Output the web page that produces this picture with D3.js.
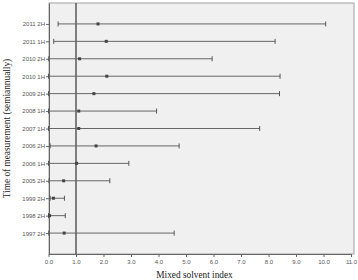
<!DOCTYPE html>
<html>
<head>
<meta charset="utf-8">
<script src="https://cdn.jsdelivr.net/npm/d3@7"></script>
<style>
  body { margin: 0; background: #fff; }
  svg { display: block; }
</style>
</head>
<body>
<svg id="chart"></svg>
<script>
const periods = ["2011 2H", "2011 1H", "2010 2H", "2010 1H", "2009 2H", "2008 1H", "2007 1H",
                 "2006 2H", "2006 1H", "2005 2H", "1999 2H", "1998 2H", "1997 2H"]
const lows  = [0.35, 0.19, 0.01, 0.0, 0.0, 0.0, 0.0, 0.06, 0.0, 0.02, 0.06, 0.0, 0.01]
const means = [1.8, 2.1, 1.13, 2.12, 1.65, 1.1, 1.1, 1.73, 1.02, 0.55, 0.18, 0.04, 0.57]
const highs = [10.08, 8.24, 5.95, 8.42, 8.4, 3.93, 7.68, 4.75, 2.92, 2.23, 0.58, 0.61, 4.57]
const xTicks = [0, 1, 2, 3, 4, 5, 6, 7, 8, 9, 10, 11]
const refValue = 1

const width = 358, height = 280
const margin = {top: 3, right: 4, bottom: 26, left: 49}

const svg = d3.select("#chart").attr("width", width).attr("height", height)

const x = d3.scaleLinear().domain([0, 11]).range([48.5, 351])
const y = d3.scalePoint().domain(periods)
    .range([margin.top, height - margin.bottom]).padding(1.2)

// fond du graphique
svg.append("rect")
    .attr("x", margin.left).attr("y", margin.top)
    .attr("width", width - margin.right - margin.left)
    .attr("height", height - margin.bottom - margin.top)
    .attr("fill", "#f0f0f0").attr("stroke", "#a0a0a0")

// axes
const xAxis = svg.append("g")
    .attr("transform", `translate(0,${height - margin.bottom})`)
    .call(d3.axisBottom(x).tickValues(xTicks).tickFormat(d3.format(".1f")).tickSize(3).tickSizeOuter(0))
xAxis.select(".domain").attr("stroke", "#666")
xAxis.selectAll(".tick line").attr("stroke", "#666")
xAxis.selectAll("text").attr("fill", "#555").style("font", "6px 'Liberation Sans', sans-serif")

const yAxis = svg.append("g")
    .attr("transform", `translate(${margin.left},0)`)
    .call(d3.axisLeft(y).tickSize(3).tickPadding(1).tickSizeOuter(0))
yAxis.select(".domain").attr("stroke", "#666")
yAxis.selectAll(".tick line").attr("stroke", "#666")
yAxis.selectAll("text").attr("fill", "#555").style("font", "6px 'Liberation Sans', sans-serif")

// ligne de référence
svg.append("line")
    .attr("x1", x(refValue)).attr("x2", x(refValue))
    .attr("y1", margin.top).attr("y2", height - margin.bottom)
    .attr("stroke", "#333").attr("stroke-width", 1.2)

const rows = periods.map((p, i) => ({period: p, low: lows[i], mean: means[i], high: highs[i]}))

const bars = svg.append("g").selectAll("g")
    .data(rows)
    .join("g")
    .attr("transform", d => `translate(0,${y(d.period)})`)

bars.append("line")
    .attr("x1", d => x(d.low)).attr("x2", d => x(d.high))
    .attr("stroke", "#666").attr("stroke-width", 1)

bars.selectAll(".cap")
    .data(d => [d.low, d.high])
    .join("line")
    .attr("class", "cap")
    .attr("x1", v => x(v)).attr("x2", v => x(v))
    .attr("y1", -2.5).attr("y2", 2.5)
    .attr("stroke", "#555").attr("stroke-width", 1)

bars.append("rect")
    .attr("x", d => x(d.mean) - 1.5).attr("y", -1.5)
    .attr("width", 3).attr("height", 3)
    .attr("fill", "#444")

// titres
svg.append("text")
    .attr("x", 194.5)
    .attr("y", 278)
    .attr("text-anchor", "middle")
    .attr("fill", "#222")
    .style("font", "9.3px 'Liberation Serif', serif")
    .text("Mixed solvent index")

svg.append("text")
    .attr("transform", `translate(10,${(margin.top + height - margin.bottom) / 2}) rotate(-90)`)
    .attr("text-anchor", "middle")
    .attr("fill", "#222")
    .style("font", "9.3px 'Liberation Serif', serif")
    .text("Time of measurement (semiannually)")
</script>
</body>
</html>
